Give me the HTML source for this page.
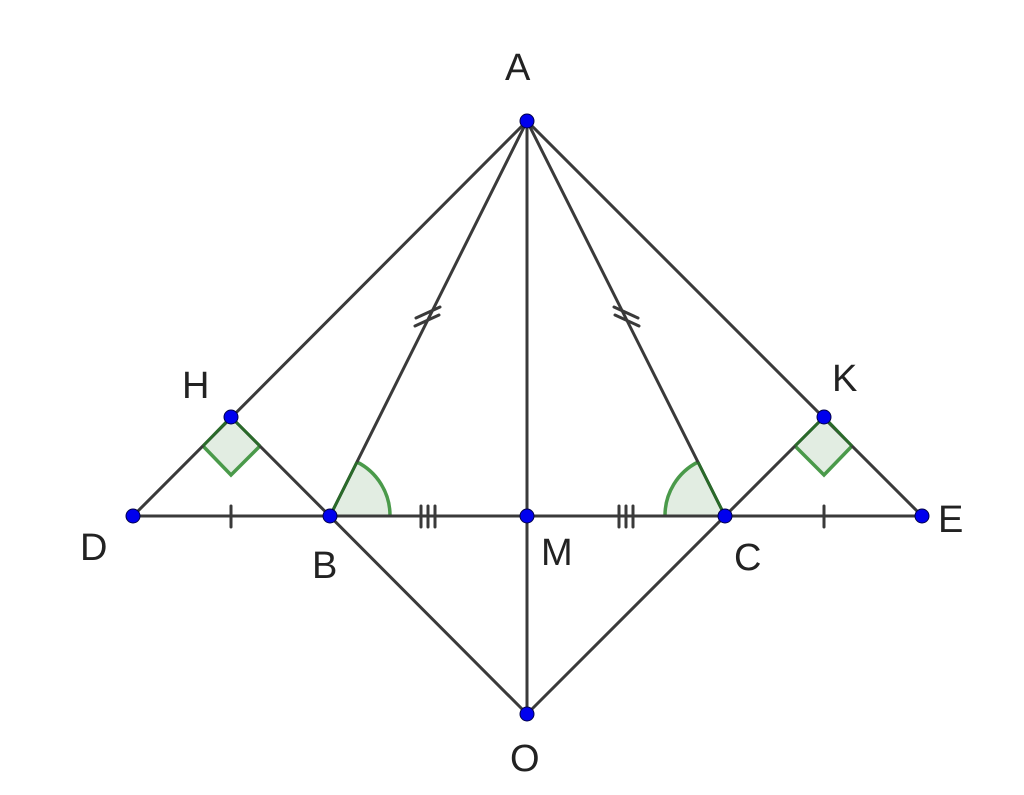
<!DOCTYPE html>
<html><head><meta charset="utf-8"><style>
html,body{margin:0;padding:0;background:#fff;}
svg{display:block;}
text{font-family:"Liberation Sans",sans-serif;font-size:38px;fill:#222;}
</style></head><body>
<svg width="1024" height="795" viewBox="0 0 1024 795" xmlns="http://www.w3.org/2000/svg">
<!-- angle fills -->
<path d="M330,516 L390,516 A60,60 0 0 0 357,462 Z" fill="#e2ede2" stroke="none"/>
<path d="M725,516 L665,516 A60,60 0 0 1 698,462 Z" fill="#e2ede2" stroke="none"/>
<polygon points="231,417 203,446 231,475 260,446" fill="#e2ede2"/>
<polygon points="824,417 795,446 824,475 852,446" fill="#e2ede2"/>
<g stroke="#4a9a4a" stroke-width="3.5" fill="none">
<path d="M390,516 A60,60 0 0 0 357,462"/>
<path d="M665,516 A60,60 0 0 1 698,462"/>
<polyline points="203,446 231,475 260,446"/>
<polyline points="795,446 824,475 852,446"/>
</g>
<g stroke="#3a3a3a" stroke-width="3" fill="none" stroke-linecap="round">
<line x1="527" y1="121" x2="133" y2="516"/>
<line x1="527" y1="121" x2="922" y2="516"/>
<line x1="527" y1="121" x2="330" y2="516"/>
<line x1="527" y1="121" x2="725" y2="516"/>
<line x1="527" y1="121" x2="527" y2="714"/>
<line x1="133" y1="516" x2="922" y2="516"/>
<line x1="231" y1="417" x2="527" y2="714"/>
<line x1="824" y1="417" x2="527" y2="714"/>
<!-- ticks -->
<line x1="231" y1="506" x2="231" y2="527"/>
<line x1="824" y1="506" x2="824" y2="527"/>
<line x1="421" y1="506" x2="421" y2="527"/>
<line x1="428" y1="506" x2="428" y2="527"/>
<line x1="435" y1="506" x2="435" y2="527"/>
<line x1="619" y1="506" x2="619" y2="527"/>
<line x1="626" y1="506" x2="626" y2="527"/>
<line x1="633" y1="506" x2="633" y2="527"/>
<line x1="416" y1="318" x2="440" y2="307"/>
<line x1="415" y1="326" x2="439" y2="315"/>
<line x1="638" y1="318" x2="614" y2="307"/>
<line x1="639" y1="326" x2="615" y2="315"/>
</g>
<g stroke="#2a6a2a" stroke-width="3" fill="none">
<polyline points="203,446 231,417 260,446"/>
<polyline points="795,446 824,417 852,446"/>
<line x1="330" y1="516" x2="357" y2="462"/>
<line x1="725" y1="516" x2="698" y2="462"/>
</g>
<g fill="#0000ee" stroke="#00004a" stroke-width="1">
<circle cx="527" cy="121" r="7"/><circle cx="231" cy="417" r="7"/><circle cx="824" cy="417" r="7"/>
<circle cx="133" cy="516" r="7"/><circle cx="330" cy="516" r="7"/><circle cx="527" cy="516" r="7"/>
<circle cx="725" cy="516" r="7"/><circle cx="922" cy="516" r="7"/><circle cx="527" cy="714" r="7"/>
</g>
<text x="505" y="80">A</text>
<text x="182" y="398">H</text>
<text x="832" y="391">K</text>
<text x="80" y="560">D</text>
<text x="312" y="578">B</text>
<text x="541" y="565">M</text>
<text x="734" y="570">C</text>
<text x="938" y="532">E</text>
<text x="510" y="771">O</text>
</svg>
</body></html>
